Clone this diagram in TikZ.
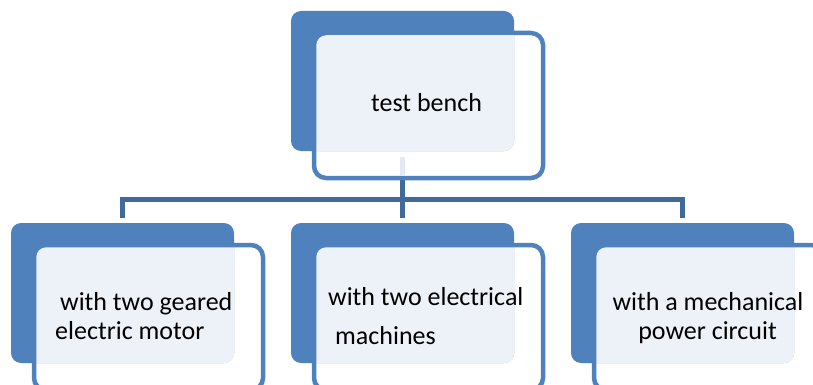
\documentclass[tikz,border=0pt]{standalone}
\usepackage{fontspec}
\setmainfont{Carlito}
\usetikzlibrary{calc}
\definecolor{accent}{HTML}{4F81BD}
\definecolor{connc}{HTML}{41699A}
\definecolor{lightc}{HTML}{EDF1F8}
\definecolor{stubc}{HTML}{E4EAF2}
\tikzset{
  backbox/.style={fill=accent, rounded corners=10pt, inner sep=0pt, minimum width=223pt, minimum height=140pt},
  framebox/.style={draw=accent, line width=4.5pt, fill=white, rounded corners=12pt, inner sep=0pt, minimum width=229pt, minimum height=145pt},
  conn/.style={draw=connc, line width=5pt},
  stubline/.style={draw=stubc, line width=5pt},
  txt/.style={font=\fontsize{26}{30}\selectfont, inner sep=0pt, anchor=base west},
}
\newcommand\orgunit[3]{%
  \node[framebox] (#1f) at ({#2+137.5},{#3+94.5}) {};
  \node[backbox] (#1b) at ({#2+111.5},{#3+70}) {};
  \begin{scope}
    \clip[rounded corners=10pt] ({#2+25.25},{#3+24.25}) rectangle ({#2+249.75},{#3+164.75});
    \fill[lightc, rounded corners=10pt] (#1b.north west) rectangle (#1b.south east);
  \end{scope}
}
\begin{document}
\begin{tikzpicture}[x=1pt, y=-1pt]
\useasboundingbox (0,0) rectangle (813,385);
\clip (0,0) rectangle (813,385);
% invisible placeholders for connector ends
\coordinate (jM) at (402.5,199.5);
\coordinate (stubtop) at (402.5,157);
\coordinate (stubbot) at (402.5,176);
\coordinate (dropTop) at (402.5,180);
\coordinate (dL) at (122.5,217.7);
\coordinate (dM) at (402.5,217.7);
\coordinate (dR) at (682.5,217.7);
% connectors
\draw[conn] (dL) |- (jM) -| (dR);
\draw[conn] (dropTop) -- (dM);
% boxes
\orgunit{top}{291}{11}
\orgunit{L}{11}{223}
\orgunit{M}{291}{223}
\orgunit{R}{571}{223}
\draw[stubline] (stubtop) -- (stubbot);
% texts
\node[txt] (t0) at (371,112) {test bench};
\node[txt] (l1) at (60,310) {with two geared};
\node[txt] (l2) at (55,339) {electric motor};
\node[txt] (m1) at (328,305) {with two electrical};
\node[txt] (m2) at (335,344) {machines};
\node[txt, anchor=base] (r1) at (708,310) {with a mechanical};
\node[txt, anchor=base] (r2) at (707.5,339) {power circuit};
\end{tikzpicture}
\end{document}
